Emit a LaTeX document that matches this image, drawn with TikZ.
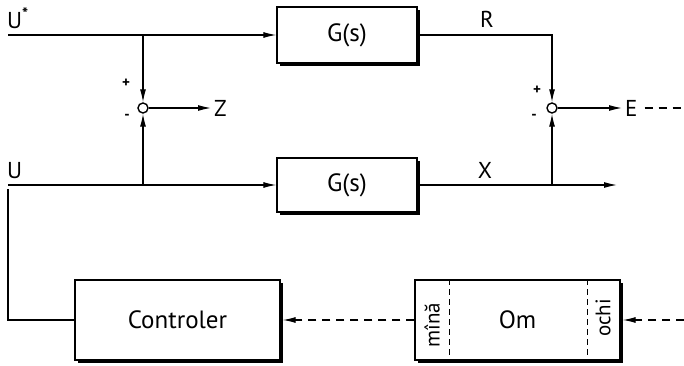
\documentclass[tikz,border=0pt]{standalone}
\usepackage{fontspec}
\setmainfont{PT Sans}
\usetikzlibrary{arrows.meta}
\tikzset{
  block/.style={draw,line width=1.3pt,fill=white,minimum width=140pt,minimum height=56pt,
    font=\fontsize{25}{27}\selectfont},
  sumpt/.style={draw,circle,line width=1.4pt,fill=white,inner sep=0pt,minimum size=10pt},
  sig/.style={line width=1.2pt},
  tip/.style={-{Latex[length=13pt,width=6pt]}},
  arr/.style={sig,tip},
  dash line/.style={sig,dash pattern=on 8pt off 6pt},
  lbl/.style={font=\fontsize{23}{25}\selectfont,inner sep=0pt},
  sgn/.style={font=\bfseries\fontsize{15}{15}\selectfont,inner sep=0pt},
  side/.style={rotate=90,font=\fontsize{21}{22}\selectfont,inner sep=0pt},
  edge shade/.style={line width=2.4pt},
}
\begin{document}
\begin{tikzpicture}[x=1pt,y=-1pt]
  \useasboundingbox (0,0) rectangle (684,366);

  % blocks
  \node[block] (g1) at (347,35) {G(s)};
  \node[block,minimum height=54pt] (g2) at (347,185) {G(s)};
  \node[block,minimum width=205pt,minimum height=80pt] (ctrl) at (177.5,320) {Controler};
  \node[block,minimum width=205pt,minimum height=80pt] (om) at (517.5,320) {Om};
  \foreach \b in {g1,g2,ctrl,om}
    \draw[edge shade] ([shift={(1.6,4)}]\b.north east) -- ([shift={(1.6,1.6)}]\b.south east)
      -- ([shift={(4,1.6)}]\b.south west);

  % comparators
  \node[sumpt] (s1) at (143,108) {};
  \node[sumpt] (s2) at (552,108) {};

  % signal names
  \node[lbl,anchor=south west] (lustar) at (7,29) {U\textsuperscript{\bfseries*}};
  \node[lbl,anchor=south west] (lu) at (7,179) {U};
  \node[lbl] (lr) at (487,19) {R};
  \node[lbl] (lx) at (485,170) {X};
  \node[lbl,anchor=west] (lz) at (214,108) {Z};
  \node[lbl,anchor=west] (le) at (625,108) {E};
  \node[sgn] (p1) at (126,83) {+};
  \node[sgn] (m1) at (127,117) {-};
  \node[sgn] (p2) at (537,90) {+};
  \node[sgn] (m2) at (534,117) {-};

  % branch points and free ends
  \coordinate (ustar) at (8,35);
  \coordinate (u) at (8,185);
  \coordinate (t1) at (143,35);
  \coordinate (t2) at (143,185);
  \coordinate (t3) at (552,185);
  \coordinate (xend) at (617,185);
  \coordinate (eend) at (684,108);
  \coordinate (fb) at (8,189);
  \coordinate (oin) at (684,320);

  % upper path
  \draw[arr] (ustar) -- (g1.west);
  \draw[arr] (t1) -- (s1.north);
  \draw[arr] (g1.east) -| (s2.north);
  \draw[arr] (s1.east) -- ([xshift=-3pt]lz.west);
  \draw[arr] (s2.east) -- ([xshift=-3pt]le.west);
  \draw[dash line] (le.east) ++(7,0) -- (eend);

  % lower path
  \draw[arr] (u) -- (g2.west);
  \draw[arr] (t2) -- (s1.south);
  \draw[arr] (g2.east) -- (xend);
  \draw[arr] (t3) -- (s2.south);

  % operator loop
  \draw[sig] (fb) |- (ctrl.west);
  \draw[dash line,tip] (om.west) -- ([xshift=2pt]ctrl.east);
  \draw[dash line,tip] (oin) -- ([xshift=2pt]om.east);
  \draw[sig,dash pattern=on 6pt off 4pt] ([xshift=35pt]om.north west) -- ([xshift=35pt]om.south west);
  \draw[sig,dash pattern=on 6pt off 4pt] ([xshift=-33pt]om.north east) -- ([xshift=-33pt]om.south east);
  \node[side] (mina) at (432,325) {mînă};
  \node[side] (ochi) at (603,318) {ochi};
\end{tikzpicture}
\end{document}
